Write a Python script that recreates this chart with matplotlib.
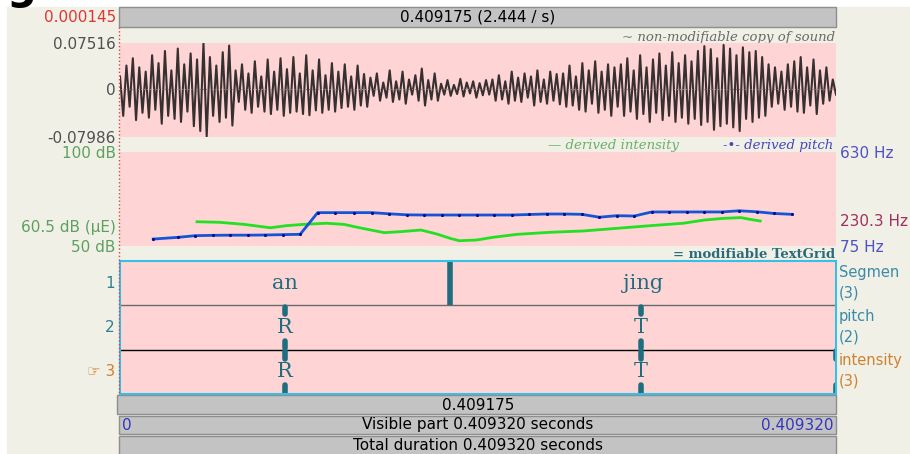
import numpy as np
import matplotlib
matplotlib.use('Agg')
import matplotlib.pyplot as plt
from matplotlib.patches import Rectangle
from matplotlib.lines import Line2D

duration = 0.40932

# waveform peaks, in thousandths (left to right)
wave_values = [
    20, -45, 38, -30, 50, -52, 35, -40, 28, -48, 55, -35, 42, -58, 62, -45, 30, -50,
    66, -55, 40, -38, 58, -62, 48, -70, 75, -79, 52, -45, 38, -55, 60, -48, 71, -61,
    30, -22, 40, -35, 25, -40, 45, -30, 20, -38, 48, -42, 28, -35, 50, -45, 32, -40,
    52, -38, 25, -42, 55, -44, 30, -36, 48, -40, 22, -35, 42, -38, 28, -32, 40, -30,
    20, -35, 38, -28, 24, -30,
    18, -12, 25, -20, 10, -15, 30, -22, 12, -18, 28, -25, 15, -10, 22, -20, 33, -28,
    14, -18, 25, -20,
    8, -10, 14, -12, 6, -9, 16, -13, 10, -8, 12, -15, 9, -11, 14, -10,
    15, -20, 22, -18, 12, -25, 28, -20, 18, -22, 25, -15, 20, -28, 30, -22, 15, -25,
    28, -20, 24, -26,
    25, -30, 38, -28, 20, -35, 42, -38, 30, -25, 45, -40, 28, -35, 40, -45, 35, -30,
    40, -45, 50, -38, 30, -50, 55, -42, 35, -55, 48, -40, 58, -52, 38, -45, 60, -55,
    42, -48, 55, -58, 45, -50, 62,
    -60, 70, -55, 65, -68, 50, -62, 72, -58, 66, -64, 55, -70, 68, -50, 60, -55, 62,
    -48, 52, -45, 40,
    -30, 35, -25, 28, -35, 40, -30, 45, -38, 52, -40, 35, -28, 48, -42, 30, -25, 35,
    -20, 15, -10,
]

pitch_times = [0.019, 0.033, 0.043, 0.053, 0.063, 0.073, 0.083, 0.093, 0.103, 0.113,
               0.123, 0.134, 0.144, 0.154, 0.164, 0.174, 0.184, 0.194, 0.204, 0.214,
               0.224, 0.234, 0.244, 0.254, 0.264, 0.274, 0.284, 0.294, 0.304, 0.314,
               0.324, 0.334, 0.344, 0.354, 0.364, 0.374, 0.384]
pitch_hz = [116, 126, 136, 138, 139, 139, 140, 142, 144, 272,
            272, 272, 272, 265, 259, 258, 258, 258, 258, 258,
            258, 261, 264, 264, 262, 245, 254, 252, 276, 276,
            276, 276, 276, 283, 277, 267, 262]

int_times = [0.044, 0.057, 0.071, 0.086, 0.095, 0.105, 0.118, 0.128, 0.137, 0.151,
             0.160, 0.172, 0.181, 0.189, 0.194, 0.204, 0.213, 0.227, 0.246, 0.265,
             0.284, 0.303, 0.322, 0.334, 0.345, 0.355, 0.360, 0.366]
int_db = [62.9, 62.6, 61.5, 59.7, 60.8, 61.5, 62.1, 61.5, 59.7, 57.1,
          57.6, 58.5, 56.4, 54.0, 52.8, 53.2, 54.6, 56.2, 57.3, 58.0,
          59.4, 60.8, 62.1, 63.8, 64.7, 65.1, 64.2, 63.3]

tier1_bounds = [0.0, 0.1887, 0.40932]
tier1_labels = ['an', 'jing']
tier2_times = [0.0943, 0.2978]
tier2_labels = ['R', 'T']
tier3_times = [0.0943, 0.2978, 0.40932]
tier3_labels = ['R', 'T', '']

W, H = 910, 454
beige = '#F0F0E6'
pink = '#FFD4D4'
grey = '#C3C3C3'
teal = '#1F6E80'
orange = '#D08030'
green_lbl = '#5FA05F'

def rect(x0, y0, x1, y1):
    return [x0 / W, 1 - y1 / H, (x1 - x0) / W, (y1 - y0) / H]

fig = plt.figure(figsize=(9.1, 4.54), dpi=100, facecolor='white')

# background layer in pixel coordinates
bg = fig.add_axes([0, 0, 1, 1])
bg.set_xlim(0, W)
bg.set_ylim(H, 0)
bg.axis('off')
bg.add_patch(Rectangle((7, 7), W - 7, H - 7, color=beige))
for (x0, y0, x1, y1) in [(119, 7, 836, 27), (117, 395, 836, 414),
                         (119, 416, 836, 434), (119, 436, 836, 456)]:
    bg.add_patch(Rectangle((x0, y0), x1 - x0, y1 - y0, facecolor=grey,
                           edgecolor='#8E8E8E', lw=1))

# bottom of a cropped title letter, as in the screenshot
bg.text(6, -1, 'g', fontsize=30, fontweight='bold', va='baseline', ha='left')
bg.text(116, 18, '0.000145', color='#E03535', fontsize=11, ha='right', va='center')
bg.text(478, 17, '0.409175 (2.444 / s)', fontsize=11, ha='center', va='center')
bg.text(835, 37, '~ non-modifiable copy of sound', family='DejaVu Serif',
        style='italic', fontsize=9.5, color='#6A6A6A', ha='right', va='center')
bg.text(548, 146, '— derived intensity', family='DejaVu Serif', style='italic',
        fontsize=9.5, color='#6AB06A', ha='left', va='center')
bg.text(833, 146, '-•- derived pitch', family='DejaVu Serif', style='italic',
        fontsize=9.5, color='#4545C0', ha='right', va='center')
bg.text(835, 255, '= modifiable TextGrid', family='DejaVu Serif', fontweight='bold',
        fontsize=9.5, color='#2A6A7A', ha='right', va='center')

bg.text(115, 283, '1', fontsize=11, color='#2F7F8F', ha='right', va='center')
bg.text(115, 327, '2', fontsize=11, color='#2F7F8F', ha='right', va='center')
bg.text(115, 371, '☞ 3', fontsize=11, color=orange, ha='right', va='center')
right_lbls = [('Segmen', 273, '#3A8AA8'), ('(3)', 293, '#3A8AA8'),
              ('pitch', 317, '#3A8AA8'), ('(2)', 337, '#3A8AA8'),
              ('intensity', 361, orange), ('(3)', 381, orange)]
for txt, yy, c in right_lbls:
    bg.text(839, yy, txt, fontsize=10.5, color=c, ha='left', va='center')

bg.text(478, 405, '0.409175', fontsize=11, ha='center', va='center')
bg.text(122, 425, '0', fontsize=11, color='#3535C0', ha='left', va='center')
bg.text(478, 425, 'Visible part 0.409320 seconds', fontsize=11, ha='center', va='center')
bg.text(834, 425, '0.409320', fontsize=11, color='#3535C0', ha='right', va='center')
bg.text(478, 445, 'Total duration 0.409320 seconds', fontsize=11, ha='center', va='center')

# waveform
ax_w = fig.add_axes(rect(120, 43, 836, 137), facecolor=pink)
wave = np.array(wave_values) / 1000.0
ax_w.plot(np.linspace(0, duration, len(wave)), wave, color='#363030', lw=1.5)
ax_w.axhline(0, color='#A07878', ls=':', lw=0.8)
ax_w.set_xlim(0, duration)
ax_w.set_ylim(-0.07986, 0.07516)
ax_w.set_xticks([])
ax_w.set_yticks([-0.07986, 0, 0.07516], ['-0.07986', '0', '0.07516'])
ax_w.tick_params(axis='y', length=0, pad=3, labelsize=11, labelcolor='#505050')
for s in ax_w.spines.values():
    s.set_visible(False)

# pitch / intensity
ax_i = fig.add_axes(rect(120, 152, 836, 246), facecolor=pink)
ax_i.plot(int_times, int_db, color='#22E022', lw=2)
ax_i.set_xlim(0, duration)
ax_i.set_ylim(50, 100)
ax_i.set_xticks([])
ax_i.set_yticks([50, 60.5, 100], ['50 dB', '60.5 dB (μE)', '100 dB'])
ax_i.tick_params(axis='y', length=0, pad=3, labelsize=11, labelcolor=green_lbl)
ax_p = ax_i.twinx()
ax_p.plot(pitch_times, pitch_hz, color='#1555D5', lw=2, marker='.', markersize=2.5,
          markerfacecolor='#0A0A90', markeredgecolor='#0A0A90')
ax_p.set_ylim(75, 630)
ax_p.set_yticks([75, 230.3, 630], ['75 Hz', '230.3 Hz', '630 Hz'])
ax_p.tick_params(axis='y', length=0, pad=3, labelsize=11)
for lbl, c in zip(ax_p.get_yticklabels(), ['#5050C8', '#A03060', '#5050C8']):
    lbl.set_color(c)
for a in (ax_i, ax_p):
    for s in a.spines.values():
        s.set_visible(False)

# TextGrid
ax_t = fig.add_axes(rect(120, 261, 836, 394), facecolor=pink)
ax_t.set_xlim(0, duration)
ax_t.set_ylim(0, 3)
ax_t.set_xticks([])
ax_t.set_yticks([])
for s in ax_t.spines.values():
    s.set_color('#35C0E8')
    s.set_linewidth(1.5)
ax_t.axhline(2, color='#6A6A6A', lw=1)
ax_t.axhline(1, color='black', lw=1)
for b in tier1_bounds[1:-1]:
    ax_t.plot([b, b], [2, 3], color=teal, lw=4, solid_capstyle='butt')
for i, lab in enumerate(tier1_labels):
    mid = (tier1_bounds[i] + tier1_bounds[i + 1]) / 2
    ax_t.text(mid, 2.5, lab, family='DejaVu Serif', fontsize=15, color=teal,
              ha='center', va='center')
for base, times, labels in [(1, tier2_times, tier2_labels), (0, tier3_times, tier3_labels)]:
    for t, lab in zip(times, labels):
        ax_t.plot([t, t], [base + 0.97, base + 0.8], color=teal, lw=4, solid_capstyle='round')
        ax_t.plot([t, t], [base + 0.2, base + 0.03], color=teal, lw=4, solid_capstyle='round')
        ax_t.text(t, base + 0.5, lab, family='DejaVu Serif', fontsize=15, color=teal,
                  ha='center', va='center')

# red dotted cursor line
fig.add_artist(Line2D([119, 119], [27, 395], transform=bg.transData,
                      color='#E04040', ls=':', lw=1))

fig.savefig('out.png', dpi=100, facecolor=fig.get_facecolor())
